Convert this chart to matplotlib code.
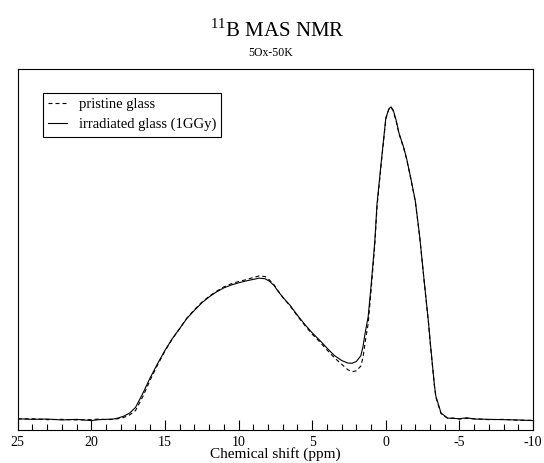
import numpy as np
import matplotlib
matplotlib.use("Agg")
import matplotlib.pyplot as plt

plt.rcParams['font.family'] = ['Liberation Serif', 'DejaVu Serif']
plt.rcParams['axes.unicode_minus'] = False
plt.rcParams['mathtext.fontset'] = 'custom'
plt.rcParams['mathtext.rm'] = 'Liberation Serif'

# chemical shift (ppm) and normalised intensity
ppm_irr = [25.0, 24.0, 23.0, 22.0, 21.0, 20.0, 19.5, 19.0, 18.5, 18.2, 17.8, 17.4,
           17.0, 16.5, 16.0, 15.5, 15.0, 14.5, 14.0, 13.5, 13.0, 12.5, 12.0, 11.5,
           11.0, 10.5, 10.0, 9.5, 9.0, 8.6, 8.2, 7.9, 7.6, 7.3, 7.0, 6.5, 6.0, 5.5,
           5.0, 4.5, 4.0, 3.5, 3.0, 2.6, 2.3, 2.0, 1.7, 1.55, 1.4, 1.2, 1.0, 0.75,
           0.6, 0.3, 0.0, -0.2, -0.35, -0.5, -0.7, -0.9, -1.2, -1.4, -1.65, -2.0,
           -2.3, -2.6, -2.9, -3.0, -3.3, -3.4, -3.75, -4.2, -4.6, -5.0, -5.5, -6.0,
           -7.0, -8.0, -9.0, -10.0]
int_irr = [0.004, 0.002, 0.003, 0.000, 0.002, -0.002, 0.001, 0.002, 0.003, 0.006, 0.012, 0.022,
           0.040, 0.085, 0.135, 0.180, 0.222, 0.260, 0.292, 0.325, 0.350, 0.374, 0.393, 0.409,
           0.422, 0.431, 0.438, 0.444, 0.449, 0.453, 0.451, 0.443, 0.430, 0.410, 0.392, 0.366, 0.334, 0.305,
           0.278, 0.255, 0.230, 0.206, 0.190, 0.182, 0.181, 0.187, 0.205, 0.235, 0.280, 0.330, 0.430, 0.570,
           0.690, 0.830, 0.965, 0.993, 1.000, 0.990, 0.957, 0.915, 0.872, 0.837, 0.782, 0.700,
           0.585, 0.445, 0.310, 0.255, 0.110, 0.075, 0.022, 0.006, 0.005, 0.004, 0.007, 0.003,
           0.002, 0.001, 0.000, -0.002]

ppm_pri = [25.0, 24.0, 23.0, 22.0, 21.0, 20.0, 19.5, 19.0, 18.5, 18.2, 17.8, 17.4,
           17.0, 16.5, 16.0, 15.5, 15.0, 14.5, 14.0, 13.5, 13.0, 12.5, 12.0, 11.5,
           11.0, 10.5, 10.0, 9.5, 9.0, 8.6, 8.2, 7.9, 7.6, 7.3, 7.0, 6.5, 6.0, 5.5,
           5.0, 4.5, 4.0, 3.5, 3.0, 2.6, 2.3, 2.0, 1.7, 1.55, 1.4, 1.2, 1.0, 0.75,
           0.6, 0.3, 0.0, -0.2, -0.35, -0.5, -0.7, -0.9, -1.2, -1.4, -1.65, -2.0,
           -2.3, -2.6, -2.9, -3.0, -3.3, -3.4, -3.75, -4.2, -4.6, -5.0, -5.5, -6.0,
           -7.0, -8.0, -9.0, -10.0]
int_pri = [0.003, 0.004, 0.001, 0.002, 0.000, 0.001, 0.003, 0.001, 0.002, 0.004, 0.008, 0.016,
           0.030, 0.075, 0.128, 0.176, 0.220, 0.259, 0.292, 0.326, 0.352, 0.376, 0.395, 0.411,
           0.425, 0.435, 0.442, 0.448, 0.455, 0.460, 0.458, 0.447, 0.432, 0.411, 0.392, 0.364, 0.332, 0.302,
           0.274, 0.250, 0.224, 0.199, 0.178, 0.161, 0.154, 0.157, 0.172, 0.200, 0.250, 0.308, 0.415, 0.560,
           0.680, 0.825, 0.962, 0.992, 0.999, 0.987, 0.954, 0.913, 0.870, 0.835, 0.780, 0.698,
           0.583, 0.443, 0.308, 0.253, 0.108, 0.072, 0.020, 0.005, 0.006, 0.003, 0.005, 0.004,
           0.001, 0.002, -0.001, -0.001]

fig = plt.figure(figsize=(5.44, 4.63), dpi=100)
ax = fig.add_axes([0.0325, 0.0713, 0.9475, 0.7797])

ax.plot(ppm_pri, int_pri, color='black', lw=0.8, ls=(0, (3.6, 2.7)), label='pristine glass')
ax.plot(ppm_irr, int_irr, color='black', lw=0.8, label='irradiated glass (1GGy)')

ax.set_xlim(25, -10)
ax.set_ylim(-0.032, 1.121)
ax.set_xticks([25, 20, 15, 10, 5, 0, -5, -10])
ax.set_xticklabels(['25', '20', '15', '10', '5', '0', '-5', '-10'])
ax.set_xticks(np.arange(-10, 26, 1), minor=True)
ax.set_yticks([])
ax.tick_params(axis='x', which='major', direction='in', length=7.5, width=0.8, labelsize=10, pad=4)
ax.tick_params(axis='x', which='minor', direction='in', length=4, width=0.8)
for s in ax.spines.values():
    s.set_linewidth(0.8)
ax.set_xlabel('Chemical shift (ppm)', fontsize=11, labelpad=-1)

fig.text(0.51, 0.92, r'$^{11}$B MAS NMR', fontsize=15, ha='center', va='baseline')
fig.text(0.498, 0.88, '5Ox-50K', fontsize=8.5, ha='center', va='baseline')

leg = ax.legend(loc='upper left', bbox_to_anchor=(0.079, 0.799), bbox_transform=fig.transFigure,
                fontsize=10.5, frameon=True, fancybox=False, framealpha=1, edgecolor='black',
                borderaxespad=0, handlelength=1.3, handletextpad=0.8, borderpad=0.35,
                labelspacing=0.45)
leg.get_frame().set_linewidth(0.8)

fig.savefig('out.png', dpi=100)
